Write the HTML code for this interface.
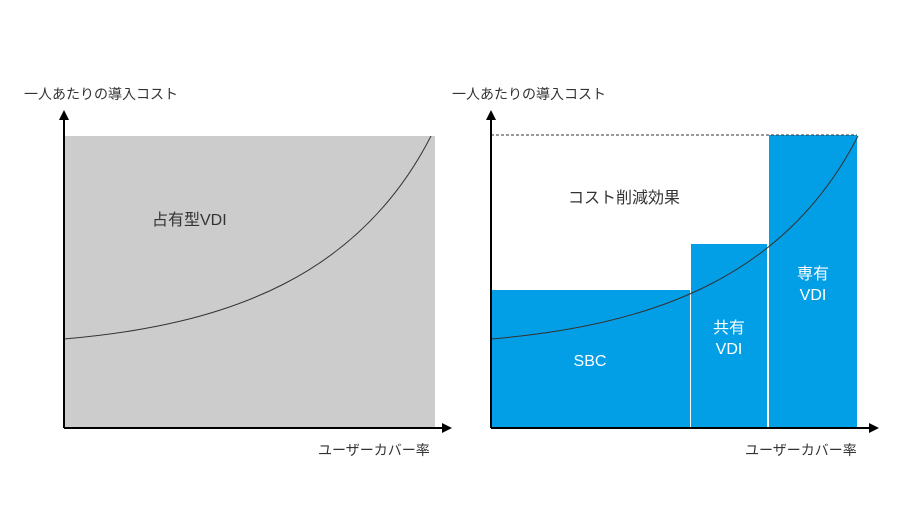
<!DOCTYPE html>
<html><head><meta charset="utf-8"><style>
body{margin:0;background:#fff;}
svg text{font-family:"Liberation Sans","Noto Sans CJK JP",sans-serif;}
</style></head><body>
<svg width="920" height="518" viewBox="0 0 920 518" xmlns="http://www.w3.org/2000/svg">
<rect x="64" y="136" width="371" height="292" fill="#cccccc"/>
<path d="M64,339 C230,325 360,275 431,136" fill="none" stroke="#333" stroke-width="1"/>
<line x1="64" y1="428" x2="64" y2="118" stroke="#000" stroke-width="2"/>
<polygon points="64,110 59,120 69,120" fill="#000"/>
<line x1="64" y1="428" x2="444" y2="428" stroke="#000" stroke-width="2"/>
<polygon points="452,428 442,423 442,433" fill="#000"/>
<text x="24" y="99" font-size="14" fill="#333">一人あたりの導入コスト</text>
<text x="318" y="455" font-size="14" fill="#333">ユーザーカバー率</text>
<text x="152" y="225" font-size="16" fill="#333">占有型VDI</text>

<rect x="491" y="290" width="199" height="138" fill="#039fe6"/>
<rect x="691" y="244" width="76" height="184" fill="#039fe6"/>
<rect x="769" y="135" width="88" height="293" fill="#039fe6"/>
<line x1="491" y1="135" x2="857" y2="135" stroke="#333" stroke-dasharray="3,2" stroke-width="1"/>
<path d="M491,339 C657,325 787,275 858,136" fill="none" stroke="#333" stroke-width="1"/>
<line x1="491" y1="428" x2="491" y2="118" stroke="#000" stroke-width="2"/>
<polygon points="491,110 486,120 496,120" fill="#000"/>
<line x1="491" y1="428" x2="871" y2="428" stroke="#000" stroke-width="2"/>
<polygon points="879,428 869,423 869,433" fill="#000"/>
<text x="452" y="99" font-size="14" fill="#333">一人あたりの導入コスト</text>
<text x="745" y="455" font-size="14" fill="#333">ユーザーカバー率</text>
<text x="568" y="203" font-size="16" fill="#333">コスト削減効果</text>
<text x="590" y="366" font-size="16" fill="#fff" text-anchor="middle">SBC</text>
<text x="729" y="333" font-size="16" fill="#fff" text-anchor="middle">共有</text>
<text x="729" y="354" font-size="16" fill="#fff" text-anchor="middle">VDI</text>
<text x="813" y="279" font-size="16" fill="#fff" text-anchor="middle">専有</text>
<text x="813" y="300" font-size="16" fill="#fff" text-anchor="middle">VDI</text>
</svg>
</body></html>
